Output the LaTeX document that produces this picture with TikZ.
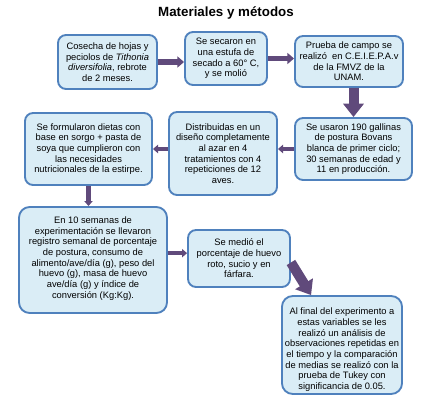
\documentclass[tikz,border=0pt]{standalone}
\usepackage{fontspec}
\setmainfont{Liberation Sans}
\usepackage{tikz}
\usetikzlibrary{arrows.meta,positioning,calc}
\definecolor{edgeblue}{RGB}{79,129,189}
\definecolor{paleblue}{RGB}{218,237,246}
\definecolor{plum}{RGB}{96,74,123}
\tikzset{
  stage/.style={draw=edgeblue,line width=1.4pt,rounded corners=6pt,fill=paleblue,align=center,inner sep=2pt,font=\fontsize{7}{8}\selectfont},
  flow/.style={-{Triangle[length=3.8pt,width=6.2pt]},draw=plum,line width=3.4pt},
  flowm/.style={-{Triangle[length=5pt,width=8.2pt]},draw=plum,line width=4.3pt},
  flowbig/.style={-{Triangle[length=10pt,width=15pt]},draw=plum,line width=7.5pt}
}
\begin{document}
\begin{tikzpicture}[x=0.75pt,y=-0.75pt]
  \useasboundingbox (0,0) rectangle (433,407);
  \node[font=\fontsize{10}{12}\selectfont\bfseries] (title) at (226,13) {Materiales y métodos};
  % first row
  \node[stage,minimum width=74.25pt,minimum height=40.5pt] (harvest) at (107.5,62) {Cosecha de hojas y\\peciolos de \textit{Tithonia}\\\textit{diversifolia}, rebrote\\de 2 meses.};
  \node[stage,minimum width=61.5pt,minimum height=39.75pt] (dry) at (226,58.5) {Se secaron en\\una estufa de\\secado a 60° C,\\y se molió};
  \node[stage,minimum width=81pt,minimum height=38.25pt] (field) at (349,61.5) {Prueba de campo se\\realizó\ \ en C.E.I.E.P.A.v\\de la FMVZ de la\\UNAM.};
  % second row
  \node[stage,minimum width=87.75pt,minimum height=46.5pt] (hens) at (353.5,149) {Se usaron 190 gallinas\\de postura Bovans\\blanca de primer ciclo;\\30 semanas de edad y\\11 en producción.};
  \node[stage,minimum width=81pt,minimum height=62.25pt] (design) at (223,153.5) {Distribuidas en un\\diseño completamente\\al azar en 4\\tratamientos con 4\\repeticiones de 12\\aves.};
  \node[stage,minimum width=95.25pt,minimum height=54pt] (diets) at (88.5,149) {Se formularon dietas con\\base en sorgo + pasta de\\soya que cumplieron con\\las necesidades\\nutricionales de la estirpe.};
  % third row
  \node[stage,minimum width=111pt,minimum height=79.5pt,rounded corners=8pt] (record) at (93,260) {En 10 semanas de\\experimentación se llevaron\\registro semanal de porcentaje\\de postura, consumo de\\alimento/ave/día (g), peso del\\huevo (g), masa de huevo\\ave/día (g) y índice de\\conversión (Kg:Kg).\rule[-4pt]{0pt}{0pt}};
  \node[stage,minimum width=76.5pt,minimum height=42.75pt] (eggs) at (239,258.5) {Se medió el\\porcentaje de huevo\\roto, sucio y en\\fárfara.};
  \node[stage,minimum width=90pt,minimum height=70.5pt,rounded corners=8pt] (stats) at (342,345) {\rule{0pt}{12pt}Al final del experimento a\\estas variables se les\\realizó un análisis de\\observaciones repetidas en\\el tiempo y la comparación\\de medias se realizó con la\\prueba de Tukey con\\significancia de 0.05.};
  % arrows
  \draw[flowm] (harvest.east) -- (harvest.east -| dry.west);
  \draw[flowm] (dry.east) -- (dry.east -| field.west);
  \draw[flowbig] (hens.north |- field.south) -- (hens.north);
  \draw[flow] (hens.west) -- (hens.west -| design.east);
  \draw[flow] (diets.east -| design.west) -- (diets.east);
  \draw[flow] (diets.south) -- (diets.south |- record.north);
  \draw[flow] ([yshift=4pt]eggs.west -| record.east) -- ([yshift=4pt]eggs.west);
  \draw[flowbig] ($(eggs.east)+(0,4)$) -- ($(stats.north west)+(30,0)$);
\end{tikzpicture}
\end{document}
